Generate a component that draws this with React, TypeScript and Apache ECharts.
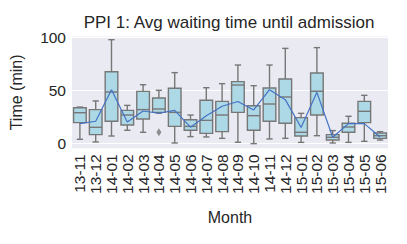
import React, { useEffect, useRef } from 'react';
import * as echarts from 'echarts';

const months = ['13-11', '13-12', '14-01', '14-02', '14-03', '14-04', '14-05', '14-06', '14-07', '14-08',
  '14-09', '14-10', '14-11', '14-12', '15-01', '15-02', '15-03', '15-04', '15-05', '15-06'];
const mins = [3.8, 1.3, 6.9, 12.3, 10.4, 28.5, 0.3, 6.3, 6, 4.7, 1, -0.3, 4.1, 4.7, 0.9, 7.2, 0.3, 0.9, 1.9, 3.1];
const q1s = [19.5, 8.2, 20.8, 17.3, 23, 29.2, 16, 12.3, 9.4, 11, 29.2, 12.3, 20.8, 18.9, 6.9, 26.7, 3.1, 10.4, 19.5, 4.7];
const medians = [28.9, 15.1, 48.4, 26.7, 31.8, 32.4, 29.2, 16, 21.7, 26.7, 55, 26.1, 37.1, 43.7, 10.4, 49.1, 5.7, 15.4, 30.2, 7.2];
const q3s = [33.6, 31.8, 67.6, 31.1, 49, 42.8, 51.9, 22.3, 40.6, 39.6, 58.2, 35.5, 52.2, 60.7, 24.2, 66.4, 8.2, 18.9, 39.6, 9.7];
const maxs = [34.2, 40, 97.8, 35.8, 55.3, 50, 66.7, 26.7, 52.5, 56.3, 73.9, 54.4, 73.9, 89.6, 28.3, 90.3, 12, 25.5, 45.3, 11];
const means = [18.6, 20.8, 50.6, 20.1, 30.5, 28.4, 31.1, 15.2, 26, 35, 39.5, 31.5, 50.6, 41.2, 15, 48.1, 5.7, 18.6, 18.6, 6];
const outlierMonths = ['14-04'];
const outlierValues = [10.4];
const yTicks = [0, 50, 100];

const FONT = '"Liberation Sans", Arial, sans-serif';
const TEXT = '#262626';
const EDGE = '#777777';

export default function App() {
  const ref = useRef<HTMLDivElement>(null);
  useEffect(() => {
    const chart = echarts.init(ref.current!, null, { renderer: 'svg' });
    const boxData = months.map((_, i) => [i, mins[i], q1s[i], medians[i], q3s[i], maxs[i]]);
    chart.setOption({
      animation: false,
      title: {
        text: 'PPI 1: Avg waiting time until admission',
        left: 229,
        textAlign: 'center',
        top: 14,
        padding: 0,
        textStyle: { fontFamily: FONT, fontSize: 17, fontWeight: 'normal', color: TEXT },
      },
      grid: {
        left: 70, right: 19, top: 36.5, bottom: 95.7,
        show: true, backgroundColor: '#EAEAF2', borderWidth: 0,
      },
      xAxis: {
        type: 'category',
        data: months,
        name: 'Month',
        nameLocation: 'middle',
        nameGap: 61,
        nameTextStyle: { fontFamily: FONT, fontSize: 16, color: TEXT },
        axisLine: { show: false },
        axisTick: { show: false },
        axisLabel: { interval: 0, rotate: 90, margin: 6, fontFamily: FONT, fontSize: 15.5, color: TEXT },
        splitLine: { show: false },
      },
      yAxis: {
        type: 'value',
        min: -4.7,
        max: 100.8,
        name: 'Time (min)',
        nameLocation: 'middle',
        nameGap: 48,
        nameTextStyle: { fontFamily: FONT, fontSize: 16, color: TEXT },
        axisLine: { show: false },
        axisTick: { show: false, customValues: yTicks },
        axisLabel: { customValues: yTicks, margin: 6, fontFamily: FONT, fontSize: 15.5, color: TEXT },
        splitLine: { show: true, lineStyle: { color: '#ffffff', width: 1.2 } },
      },
      series: [
        {
          type: 'custom',
          data: boxData,
          encode: { x: 0, y: [1, 2, 3, 4, 5] },
          z: 2,
          renderItem: (params: any, api: any) => {
            const x = api.value(0);
            const pMin = api.coord([x, api.value(1)]);
            const pQ1 = api.coord([x, api.value(2)]);
            const pMed = api.coord([x, api.value(3)]);
            const pQ3 = api.coord([x, api.value(4)]);
            const pMax = api.coord([x, api.value(5)]);
            const w = api.size([1, 0])[0] * 0.8;
            const cx = pMed[0];
            const ls = { stroke: EDGE, lineWidth: 1.4, fill: null };
            return {
              type: 'group',
              children: [
                { type: 'line', shape: { x1: cx, y1: pQ3[1], x2: cx, y2: pMax[1] }, style: ls },
                { type: 'line', shape: { x1: cx, y1: pQ1[1], x2: cx, y2: pMin[1] }, style: ls },
                { type: 'line', shape: { x1: cx - w / 4, y1: pMax[1], x2: cx + w / 4, y2: pMax[1] }, style: ls },
                { type: 'line', shape: { x1: cx - w / 4, y1: pMin[1], x2: cx + w / 4, y2: pMin[1] }, style: ls },
                {
                  type: 'rect',
                  shape: { x: cx - w / 2, y: pQ3[1], width: w, height: pQ1[1] - pQ3[1] },
                  style: { fill: '#ADD8E6', stroke: EDGE, lineWidth: 1.4 },
                },
                { type: 'line', shape: { x1: cx - w / 2, y1: pMed[1], x2: cx + w / 2, y2: pMed[1] }, style: ls },
              ],
            };
          },
        },
        {
          type: 'scatter',
          data: outlierMonths.map((m, i) => [m, outlierValues[i]]),
          symbol: 'diamond',
          symbolSize: [5, 8],
          itemStyle: { color: EDGE },
          z: 3,
        },
        {
          type: 'line',
          data: means,
          symbol: 'none',
          lineStyle: { color: '#4472C4', width: 1.2 },
          z: 4,
        },
      ],
    });
    return () => chart.dispose();
  }, []);
  return <div ref={ref} style={{ width: 407, height: 244, position: 'absolute', left: 0, top: 0 }} />;
}
